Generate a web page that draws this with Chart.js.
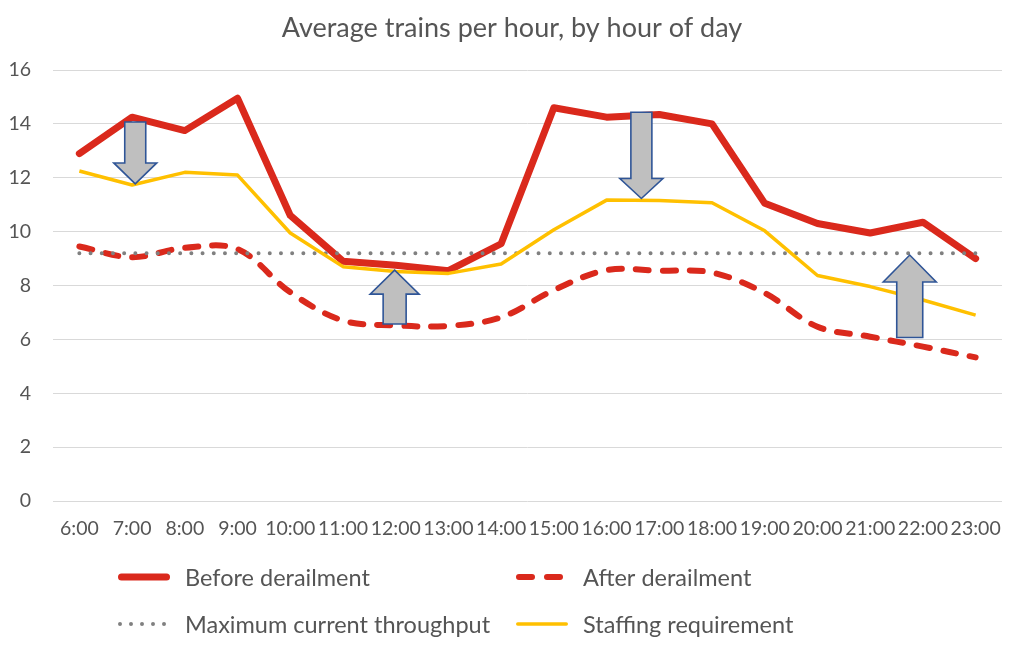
<!DOCTYPE html>
<html>
<head>
<meta charset="utf-8">
<title>Average trains per hour</title>
<script src="https://cdn.jsdelivr.net/npm/chart.js@4.4.1/dist/chart.umd.min.js"></script>
<style>
  html, body { margin: 0; padding: 0; background: #fff; }
  #wrap { width: 1024px; height: 653px; }
</style>
</head>
<body>
<div id="wrap"><canvas id="trains"></canvas></div>
<script>
// chart values
const hours = ['6:00', '7:00', '8:00', '9:00', '10:00', '11:00', '12:00', '13:00', '14:00',
  '15:00', '16:00', '17:00', '18:00', '19:00', '20:00', '21:00', '22:00', '23:00'];
const beforeDerailment = [12.9, 14.25, 13.75, 14.95, 10.6, 8.9, 8.75, 8.55, 9.55,
  14.6, 14.25, 14.35, 14.0, 11.05, 10.3, 9.95, 10.35, 9.0];
const afterDerailment = [9.45, 9.05, 9.4, 9.35, 7.75, 6.7, 6.52, 6.5, 6.82,
  7.83, 8.57, 8.55, 8.48, 7.72, 6.47, 6.1, 5.73, 5.33];
const maxThroughput = [9.2, 9.2, 9.2, 9.2, 9.2, 9.2, 9.2, 9.2, 9.2,
  9.2, 9.2, 9.2, 9.2, 9.2, 9.2, 9.2, 9.2, 9.2];
const staffing = [12.25, 11.73, 12.2, 12.1, 9.95, 8.7, 8.52, 8.45, 8.8,
  10.07, 11.17, 11.16, 11.07, 10.03, 8.37, 7.96, 7.46, 6.9];
const yTicks = [0, 2, 4, 6, 8, 10, 12, 14, 16];

// arrows: category position, tail value, tip value
const arrowAt = [1.06, 5.98, 10.66, 15.75];
const arrowFrom = [14.07, 6.57, 14.43, 6.07];
const arrowTo = [11.77, 8.57, 11.23, 9.13];

const TEXT = '#555555';
const FONT = 'Lato';

// arrow sizes in px (shaft, head width, head length)
const arrowStyle = [
  { shaft: 21, head: 43, len: 21 },
  { shaft: 23, head: 49, len: 24 },
  { shaft: 21, head: 43, len: 20 },
  { shaft: 26, head: 53, len: 27 }
];

const arrowPlugin = {
  id: 'arrows',
  afterDatasetsDraw(chart) {
    const { ctx, scales: { x, y } } = chart;
    ctx.save();
    arrowAt.forEach((pos, i) => {
      const st = arrowStyle[i];
      const cx = x.getPixelForValue(pos);
      const y0 = y.getPixelForValue(arrowFrom[i]);
      const y1 = y.getPixelForValue(arrowTo[i]);
      const dir = y1 > y0 ? 1 : -1;
      const neck = y1 - dir * st.len;
      const s = st.shaft / 2, h = st.head / 2;
      ctx.beginPath();
      ctx.moveTo(cx - s, y0);
      ctx.lineTo(cx - s, neck);
      ctx.lineTo(cx - h, neck);
      ctx.lineTo(cx, y1);
      ctx.lineTo(cx + h, neck);
      ctx.lineTo(cx + s, neck);
      ctx.lineTo(cx + s, y0);
      ctx.closePath();
      ctx.fillStyle = '#bfbfbf';
      ctx.fill();
      ctx.lineWidth = 1.6;
      ctx.strokeStyle = '#2f5597';
      ctx.lineJoin = 'miter';
      ctx.stroke();
    });
    ctx.restore();
  }
};

// two-column legend under the axis
const legendPlugin = {
  id: 'gridLegend',
  afterDraw(chart) {
    const { ctx, chartArea } = chart;
    const cols = [118, 516];
    const rows = [chartArea.bottom + 76, chartArea.bottom + 123];
    const slots = [[0, 0], [1, 0], [0, 1], [1, 1]];
    ctx.save();
    chart.data.datasets.forEach((ds, i) => {
      const x0 = cols[slots[i][0]];
      const yy = rows[slots[i][1]];
      ctx.beginPath();
      ctx.strokeStyle = ds.borderColor;
      ctx.lineWidth = ds.borderWidth;
      ctx.lineCap = 'round';
      ctx.setLineDash(ds.legendDash || []);
      ctx.moveTo(x0 + ds.borderWidth / 2, yy);
      ctx.lineTo(x0 + 52 - ds.borderWidth / 2, yy);
      ctx.stroke();
      ctx.setLineDash([]);
      ctx.fillStyle = TEXT;
      ctx.font = '23.5px ' + FONT;
      ctx.textBaseline = 'middle';
      ctx.textAlign = 'left';
      ctx.fillText(ds.label, x0 + 67, yy + 1);
    });
    ctx.restore();
  }
};

new Chart(document.getElementById('trains'), {
  type: 'line',
  data: {
    labels: hours,
    datasets: [
      {
        label: 'Before derailment',
        data: beforeDerailment,
        borderColor: '#da291c',
        borderWidth: 7,
        borderJoinStyle: 'round',
        borderCapStyle: 'round',
        pointRadius: 0,
        tension: 0,
        order: 4
      },
      {
        label: 'After derailment',
        data: afterDerailment,
        borderColor: '#da291c',
        borderWidth: 6,
        borderDash: [13, 14],
        legendDash: [13, 15],
        borderCapStyle: 'round',
        pointRadius: 0,
        tension: 0.35,
        order: 3
      },
      {
        label: 'Maximum current throughput',
        data: maxThroughput,
        borderColor: '#808080',
        borderWidth: 4,
        borderDash: [0, 11.2],
        legendDash: [0, 11],
        borderCapStyle: 'round',
        pointRadius: 0,
        order: 2
      },
      {
        label: 'Staffing requirement',
        data: staffing,
        borderColor: '#ffc000',
        borderWidth: 3.5,
        borderJoinStyle: 'round',
        pointRadius: 0,
        tension: 0,
        order: 1
      }
    ]
  },
  options: {
    responsive: true,
    maintainAspectRatio: false,
    animation: false,
    layout: { padding: { left: 0, right: 0, top: 0, bottom: 100 } },
    plugins: {
      legend: { display: false },
      tooltip: { enabled: false },
      title: {
        display: true,
        text: 'Average trains per hour, by hour of day',
        color: TEXT,
        font: { family: FONT, size: 27, weight: 'normal' },
        padding: { top: 12, bottom: 25.6 }
      }
    },
    scales: {
      x: {
        offset: true,
        grid: { display: false },
        border: { display: false },
        ticks: { color: TEXT, font: { family: FONT, size: 19.5 }, padding: 8, maxRotation: 0, autoSkip: false },
        afterFit(scale) { scale.height = 52; }
      },
      y: {
        min: 0,
        max: 16,
        afterBuildTicks(scale) { scale.ticks = yTicks.map(v => ({ value: v })); },
        grid: { color: '#d9d9d9', lineWidth: 1, drawTicks: false },
        border: { display: false },
        ticks: { color: TEXT, font: { family: FONT, size: 19.5 }, padding: 22 },
        afterFit(scale) { scale.width = 53; }
      },
      // empty right-hand gutter so the title centres on the whole canvas
      gutter: {
        position: 'right',
        grid: { display: false },
        border: { display: false },
        ticks: { display: false },
        afterFit(scale) { scale.width = 22; }
      }
    }
  },
  plugins: [arrowPlugin, legendPlugin]
});
</script>
</body>
</html>
